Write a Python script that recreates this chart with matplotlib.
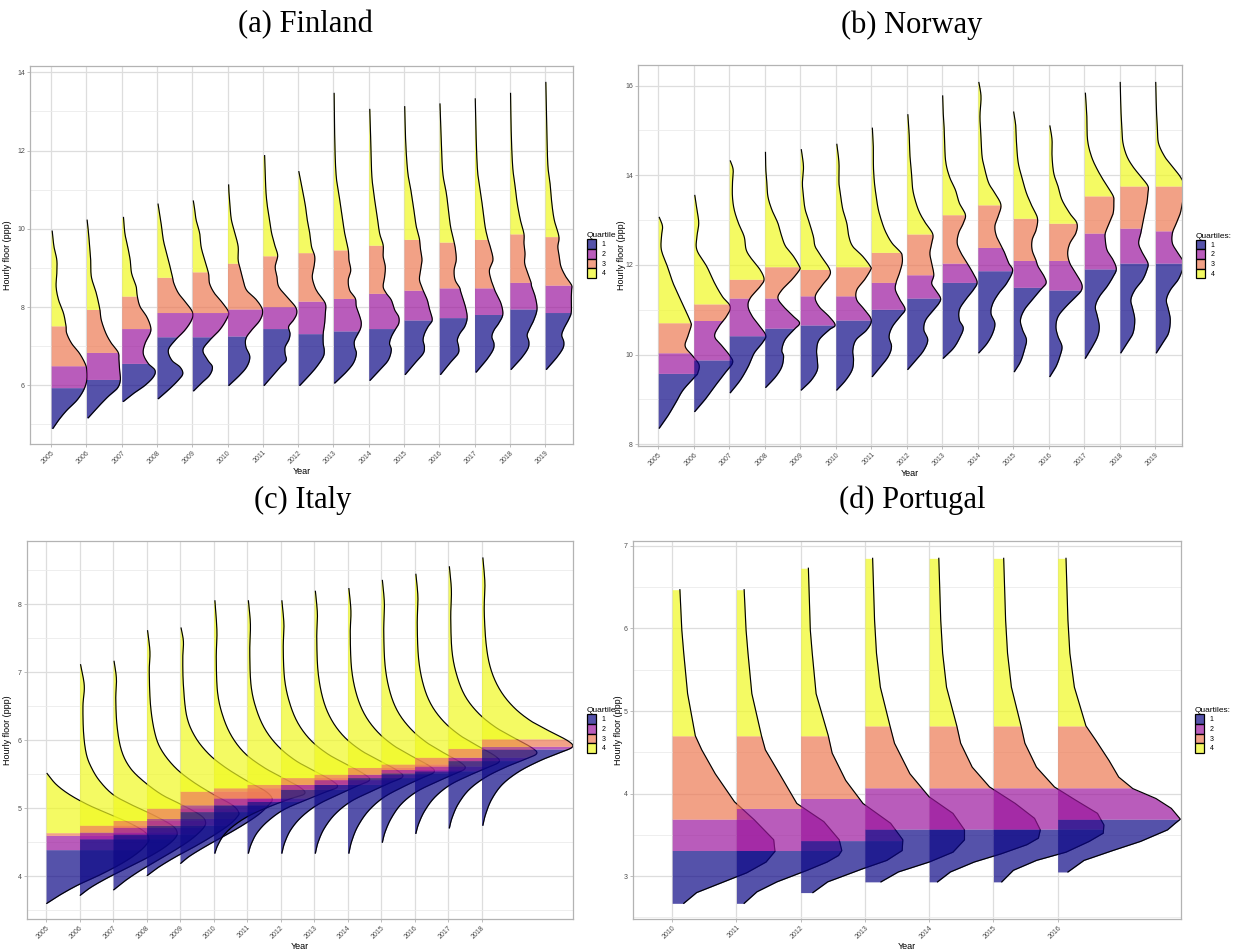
import numpy as np
import matplotlib.pyplot as plt
from matplotlib.patches import Patch
from matplotlib.colors import to_rgba

plt.rcParams["font.family"] = ["Liberation Sans", "DejaVu Sans"]

# ================================
# data
# ================================
fin_years = [str(y) for y in range(2005, 2020)]
fin_q1 = [5.94, 6.15, 6.56, 7.24, 7.24, 7.26, 7.45, 7.32, 7.39, 7.45, 7.67, 7.73, 7.81, 7.95, 7.86]
fin_q2 = [6.50, 6.84, 7.45, 7.86, 7.86, 7.95, 8.01, 8.15, 8.22, 8.35, 8.43, 8.49, 8.49, 8.63, 8.56]
fin_q3 = [7.52, 7.94, 8.28, 8.76, 8.90, 9.12, 9.31, 9.39, 9.46, 9.58, 9.73, 9.66, 9.73, 9.87, 9.80]
# density profile of each year: hourly floor values and half-violin widths
fin_y = [
    [4.90, 5.11, 5.36, 5.62, 5.88, 6.13, 6.39, 6.56, 6.82, 7.07, 7.33, 7.52, 7.84, 8.18, 8.52, 8.86, 9.20, 9.54, 9.94],
    [5.17, 5.45, 5.71, 5.92, 6.13, 6.39, 6.64, 6.84, 7.07, 7.33, 7.67, 7.94, 8.35, 8.77, 9.20, 9.54, 9.88, 10.22],
    [5.59, 5.79, 6.00, 6.22, 6.39, 6.56, 6.81, 7.07, 7.32, 7.49, 7.75, 8.01, 8.28, 8.52, 8.86, 9.20, 9.54, 9.88, 10.29],
    [5.66, 5.88, 6.13, 6.30, 6.47, 6.64, 6.90, 7.15, 7.41, 7.67, 7.86, 8.09, 8.35, 8.60, 8.76, 9.03, 9.37, 9.71, 10.05, 10.39, 10.63],
    [5.86, 6.05, 6.26, 6.47, 6.64, 6.90, 7.15, 7.41, 7.67, 7.86, 8.09, 8.35, 8.60, 8.86, 9.20, 9.54, 9.88, 10.22, 10.48, 10.71],
    [6.00, 6.22, 6.47, 6.73, 6.98, 7.20, 7.41, 7.67, 7.92, 8.18, 8.43, 8.69, 8.94, 9.20, 9.54, 9.88, 10.22, 10.56, 10.91, 11.12],
    [6.00, 6.22, 6.47, 6.64, 6.81, 6.98, 7.15, 7.32, 7.50, 7.67, 7.84, 8.01, 8.26, 8.52, 8.77, 9.03, 9.31, 9.54, 9.88, 10.22, 10.56, 10.91, 11.33, 11.87],
    [6.00, 6.22, 6.47, 6.73, 6.90, 7.07, 7.32, 7.58, 7.84, 8.09, 8.35, 8.52, 8.77, 9.03, 9.29, 9.54, 9.88, 10.22, 10.56, 10.91, 11.46],
    [6.06, 6.30, 6.56, 6.81, 6.98, 7.15, 7.41, 7.58, 7.75, 8.01, 8.22, 8.43, 8.69, 8.94, 9.20, 9.46, 9.88, 10.31, 10.73, 11.33, 12.18, 13.46],
    [6.13, 6.39, 6.64, 6.90, 7.07, 7.24, 7.41, 7.58, 7.75, 7.92, 8.18, 8.35, 8.52, 8.77, 9.03, 9.29, 9.58, 9.88, 10.31, 10.73, 11.33, 12.18, 13.05],
    [6.28, 6.56, 6.81, 6.98, 7.15, 7.32, 7.50, 7.67, 7.92, 8.18, 8.43, 8.69, 8.94, 9.20, 9.46, 9.73, 10.05, 10.48, 10.91, 11.42, 12.18, 13.12],
    [6.28, 6.56, 6.81, 6.98, 7.15, 7.32, 7.50, 7.73, 8.01, 8.35, 8.49, 8.69, 8.94, 9.20, 9.46, 9.66, 10.05, 10.48, 10.91, 11.42, 12.18, 13.19],
    [6.34, 6.64, 6.90, 7.07, 7.24, 7.41, 7.58, 7.81, 8.09, 8.35, 8.49, 8.69, 8.94, 9.20, 9.46, 9.73, 10.05, 10.48, 10.91, 11.42, 12.18, 13.32],
    [6.41, 6.69, 6.94, 7.11, 7.28, 7.45, 7.67, 7.95, 8.26, 8.52, 8.63, 8.86, 9.12, 9.37, 9.63, 9.87, 10.22, 10.65, 11.08, 11.59, 12.44, 13.46],
    [6.41, 6.69, 6.94, 7.11, 7.28, 7.45, 7.67, 7.86, 8.18, 8.43, 8.56, 8.77, 9.03, 9.29, 9.54, 9.80, 10.22, 10.65, 11.08, 11.59, 12.44, 13.74],
]
fin_w = [
    [0.05, 0.21, 0.44, 0.73, 0.92, 1.01, 1.01, 0.96, 0.80, 0.58, 0.44, 0.42, 0.35, 0.21, 0.14, 0.16, 0.16, 0.08, 0.03],
    [0.05, 0.33, 0.61, 0.87, 0.96, 0.94, 0.92, 0.90, 0.71, 0.55, 0.42, 0.38, 0.28, 0.14, 0.12, 0.09, 0.06, 0.02],
    [0.05, 0.33, 0.66, 0.90, 0.94, 0.75, 0.61, 0.66, 0.80, 0.82, 0.71, 0.52, 0.44, 0.41, 0.28, 0.24, 0.17, 0.09, 0.05],
    [0.04, 0.32, 0.60, 0.73, 0.65, 0.42, 0.32, 0.51, 0.79, 0.98, 1.01, 0.84, 0.61, 0.48, 0.44, 0.37, 0.27, 0.18, 0.13, 0.07, 0.03],
    [0.04, 0.25, 0.49, 0.57, 0.44, 0.30, 0.49, 0.77, 0.96, 1.03, 0.87, 0.63, 0.49, 0.46, 0.35, 0.25, 0.21, 0.11, 0.07, 0.03],
    [0.04, 0.30, 0.54, 0.63, 0.52, 0.52, 0.68, 0.92, 0.99, 0.82, 0.54, 0.44, 0.37, 0.30, 0.30, 0.21, 0.11, 0.07, 0.04, 0.03],
    [0.04, 0.25, 0.49, 0.66, 0.63, 0.63, 0.73, 0.77, 0.73, 0.87, 0.96, 0.92, 0.68, 0.45, 0.40, 0.35, 0.42, 0.35, 0.25, 0.19, 0.13, 0.09, 0.07, 0.05],
    [0.05, 0.28, 0.52, 0.71, 0.74, 0.71, 0.71, 0.75, 0.77, 0.77, 0.57, 0.47, 0.40, 0.45, 0.47, 0.38, 0.33, 0.26, 0.21, 0.14, 0.02],
    [0.04, 0.32, 0.56, 0.65, 0.60, 0.60, 0.75, 0.79, 0.75, 0.65, 0.62, 0.46, 0.42, 0.49, 0.44, 0.42, 0.32, 0.25, 0.18, 0.08, 0.04, 0.02],
    [0.04, 0.31, 0.55, 0.64, 0.59, 0.64, 0.74, 0.85, 0.85, 0.74, 0.64, 0.50, 0.41, 0.45, 0.47, 0.41, 0.41, 0.31, 0.24, 0.17, 0.09, 0.06, 0.03],
    [0.04, 0.30, 0.54, 0.58, 0.54, 0.58, 0.68, 0.80, 0.73, 0.66, 0.54, 0.44, 0.47, 0.51, 0.47, 0.44, 0.35, 0.28, 0.21, 0.11, 0.05, 0.02],
    [0.04, 0.29, 0.53, 0.55, 0.51, 0.58, 0.72, 0.79, 0.74, 0.62, 0.58, 0.45, 0.42, 0.48, 0.46, 0.42, 0.32, 0.26, 0.20, 0.10, 0.06, 0.02],
    [0.05, 0.33, 0.52, 0.55, 0.49, 0.55, 0.68, 0.80, 0.75, 0.61, 0.55, 0.47, 0.42, 0.52, 0.47, 0.38, 0.30, 0.24, 0.17, 0.09, 0.05, 0.02],
    [0.04, 0.32, 0.51, 0.54, 0.49, 0.56, 0.68, 0.77, 0.72, 0.62, 0.60, 0.51, 0.42, 0.43, 0.40, 0.40, 0.30, 0.21, 0.15, 0.08, 0.04, 0.02],
    [0.04, 0.31, 0.50, 0.53, 0.47, 0.53, 0.66, 0.74, 0.74, 0.75, 0.75, 0.59, 0.45, 0.40, 0.36, 0.39, 0.26, 0.19, 0.15, 0.08, 0.05, 0.02],
]

nor_years = [str(y) for y in range(2005, 2020)]
nor_q1 = [9.58, 9.88, 10.42, 10.59, 10.66, 10.77, 11.01, 11.26, 11.61, 11.87, 11.50, 11.44, 11.91, 12.04, 12.04]
nor_q2 = [10.04, 10.76, 11.26, 11.26, 11.31, 11.31, 11.61, 11.78, 12.04, 12.39, 12.10, 12.10, 12.71, 12.82, 12.76]
nor_q3 = [10.71, 11.13, 11.68, 11.96, 11.90, 11.96, 12.28, 12.69, 13.12, 13.34, 13.04, 12.93, 13.54, 13.76, 13.76]
nor_y = [
    [8.36, 8.62, 8.91, 9.21, 9.51, 9.58, 9.77, 9.96, 10.18, 10.40, 10.62, 10.71, 11.00, 11.29, 11.59, 11.96, 12.33, 12.63, 12.86, 13.06],
    [8.73, 8.99, 9.29, 9.58, 9.81, 9.96, 10.18, 10.40, 10.62, 10.85, 11.07, 11.29, 11.59, 11.96, 12.33, 12.63, 12.93, 13.23, 13.55],
    [9.15, 9.43, 9.73, 10.03, 10.25, 10.42, 10.62, 10.85, 11.07, 11.26, 11.52, 11.68, 11.89, 12.11, 12.33, 12.63, 12.93, 13.23, 13.52, 13.82, 14.12, 14.32],
    [9.27, 9.51, 9.73, 9.96, 10.10, 10.33, 10.55, 10.70, 10.85, 11.07, 11.26, 11.44, 11.67, 11.89, 11.96, 12.19, 12.41, 12.63, 12.93, 13.23, 13.52, 13.82, 14.12, 14.51],
    [9.21, 9.43, 9.66, 9.88, 10.10, 10.33, 10.55, 10.66, 10.85, 11.07, 11.29, 11.52, 11.74, 11.90, 12.19, 12.41, 12.63, 12.93, 13.23, 13.52, 13.82, 14.19, 14.57],
    [9.21, 9.43, 9.66, 9.88, 10.10, 10.33, 10.55, 10.77, 11.00, 11.22, 11.44, 11.67, 11.89, 11.96, 12.19, 12.41, 12.63, 12.93, 13.23, 13.52, 13.82, 14.27, 14.69],
    [9.51, 9.73, 9.96, 10.18, 10.40, 10.62, 10.85, 11.01, 11.22, 11.44, 11.61, 11.81, 12.04, 12.19, 12.28, 12.48, 12.71, 12.93, 13.23, 13.52, 13.82, 14.19, 14.57, 15.05],
    [9.67, 9.88, 10.10, 10.33, 10.55, 10.77, 11.00, 11.14, 11.26, 11.44, 11.59, 11.78, 12.04, 12.26, 12.48, 12.69, 12.93, 13.15, 13.38, 13.67, 13.97, 14.42, 14.86, 15.35],
    [9.92, 10.14, 10.36, 10.59, 10.77, 11.00, 11.22, 11.44, 11.61, 11.81, 12.04, 12.26, 12.48, 12.71, 12.93, 13.12, 13.38, 13.67, 13.97, 14.34, 14.94, 15.31, 15.77],
    [10.04, 10.25, 10.48, 10.70, 10.92, 11.14, 11.37, 11.59, 11.87, 12.04, 12.26, 12.39, 12.63, 12.86, 13.08, 13.34, 13.60, 13.82, 14.12, 14.42, 14.86, 15.31, 15.75, 16.07],
    [9.62, 9.84, 10.10, 10.33, 10.55, 10.77, 11.00, 11.22, 11.44, 11.59, 11.74, 11.96, 12.10, 12.33, 12.56, 12.78, 13.04, 13.30, 13.60, 13.90, 14.27, 14.71, 15.09, 15.41],
    [9.51, 9.73, 9.96, 10.18, 10.40, 10.62, 10.85, 11.07, 11.29, 11.44, 11.59, 11.81, 12.04, 12.26, 12.48, 12.71, 12.93, 13.15, 13.45, 13.75, 14.04, 14.42, 14.79, 15.10],
    [9.92, 10.14, 10.40, 10.62, 10.85, 11.07, 11.29, 11.52, 11.74, 11.91, 12.11, 12.33, 12.56, 12.71, 12.93, 13.15, 13.38, 13.54, 13.82, 14.12, 14.42, 14.79, 15.31, 15.83],
    [10.04, 10.25, 10.48, 10.77, 11.00, 11.22, 11.44, 11.67, 11.89, 12.04, 12.26, 12.48, 12.71, 12.93, 13.15, 13.38, 13.60, 13.76, 13.97, 14.19, 14.42, 14.71, 15.01, 15.46, 16.07],
    [10.04, 10.25, 10.48, 10.77, 11.00, 11.22, 11.44, 11.67, 11.89, 12.04, 12.26, 12.48, 12.71, 12.93, 13.15, 13.38, 13.60, 13.76, 13.97, 14.19, 14.42, 14.71, 15.01, 15.46, 16.07],
]
nor_w = [
    [0.03, 0.26, 0.48, 0.70, 1.04, 1.11, 1.15, 0.98, 0.76, 0.83, 0.92, 0.92, 0.76, 0.59, 0.42, 0.26, 0.09, 0.09, 0.12, 0.03],
    [0.03, 0.31, 0.59, 0.87, 1.09, 1.03, 0.81, 0.59, 0.70, 0.92, 1.03, 0.81, 0.59, 0.37, 0.09, 0.09, 0.14, 0.09, 0.03],
    [0.03, 0.31, 0.53, 0.70, 0.92, 1.03, 0.87, 0.65, 0.53, 0.59, 0.87, 0.98, 0.87, 0.65, 0.48, 0.42, 0.26, 0.14, 0.09, 0.09, 0.11, 0.03],
    [0.03, 0.31, 0.48, 0.53, 0.48, 0.57, 0.81, 0.98, 0.81, 0.53, 0.37, 0.48, 0.76, 0.98, 0.98, 0.81, 0.59, 0.48, 0.37, 0.20, 0.09, 0.06, 0.03, 0.02],
    [0.03, 0.31, 0.48, 0.48, 0.46, 0.53, 0.81, 0.98, 0.81, 0.53, 0.42, 0.59, 0.81, 0.83, 0.59, 0.42, 0.37, 0.26, 0.14, 0.09, 0.06, 0.09, 0.03],
    [0.03, 0.28, 0.46, 0.50, 0.48, 0.57, 0.87, 1.00, 0.81, 0.59, 0.59, 0.81, 0.98, 0.98, 0.76, 0.48, 0.37, 0.31, 0.20, 0.14, 0.09, 0.09, 0.03],
    [0.03, 0.26, 0.48, 0.57, 0.50, 0.59, 0.81, 0.95, 0.81, 0.68, 0.70, 0.79, 0.87, 0.87, 0.83, 0.59, 0.42, 0.31, 0.20, 0.14, 0.09, 0.06, 0.06, 0.03],
    [0.03, 0.26, 0.48, 0.59, 0.48, 0.53, 0.76, 0.90, 0.95, 0.81, 0.70, 0.76, 0.70, 0.65, 0.70, 0.73, 0.53, 0.37, 0.26, 0.17, 0.14, 0.09, 0.07, 0.03],
    [0.03, 0.31, 0.48, 0.59, 0.48, 0.48, 0.65, 0.87, 0.98, 0.87, 0.70, 0.53, 0.42, 0.46, 0.59, 0.65, 0.48, 0.37, 0.20, 0.09, 0.06, 0.03, 0.01],
    [0.03, 0.26, 0.42, 0.48, 0.37, 0.42, 0.59, 0.81, 0.98, 0.87, 0.76, 0.68, 0.53, 0.48, 0.57, 0.65, 0.48, 0.31, 0.20, 0.12, 0.09, 0.06, 0.09, 0.03],
    [0.03, 0.20, 0.31, 0.37, 0.26, 0.20, 0.31, 0.53, 0.76, 0.92, 0.87, 0.70, 0.64, 0.53, 0.53, 0.64, 0.68, 0.53, 0.37, 0.26, 0.14, 0.09, 0.07, 0.01],
    [0.03, 0.20, 0.31, 0.37, 0.26, 0.20, 0.26, 0.48, 0.76, 0.92, 0.92, 0.76, 0.59, 0.53, 0.59, 0.76, 0.79, 0.59, 0.37, 0.26, 0.14, 0.09, 0.09, 0.03],
    [0.03, 0.20, 0.37, 0.42, 0.37, 0.31, 0.42, 0.64, 0.81, 0.90, 0.81, 0.64, 0.59, 0.59, 0.70, 0.81, 0.83, 0.81, 0.59, 0.37, 0.20, 0.09, 0.07, 0.03],
    [0.03, 0.20, 0.37, 0.42, 0.37, 0.31, 0.42, 0.64, 0.76, 0.79, 0.64, 0.53, 0.59, 0.64, 0.70, 0.76, 0.79, 0.79, 0.59, 0.37, 0.20, 0.09, 0.06, 0.03, 0.01],
    [0.03, 0.20, 0.37, 0.42, 0.37, 0.31, 0.42, 0.64, 0.76, 0.81, 0.64, 0.48, 0.48, 0.59, 0.70, 0.76, 0.81, 0.83, 0.70, 0.48, 0.26, 0.09, 0.06, 0.03, 0.01],
]

ita_years = [str(y) for y in range(2005, 2019)]
ita_q1 = [4.39, 4.55, 4.62, 4.75, 4.95, 5.05, 5.10, 5.28, 5.35, 5.45, 5.52, 5.55, 5.70, 5.87]
ita_q2 = [4.60, 4.65, 4.72, 4.85, 5.05, 5.15, 5.15, 5.35, 5.42, 5.50, 5.57, 5.62, 5.75, 5.91]
ita_q3 = [4.64, 4.75, 4.82, 5.00, 5.25, 5.30, 5.35, 5.45, 5.50, 5.60, 5.65, 5.75, 5.88, 6.02]
ita_y = [
    [3.60, 3.72, 3.87, 4.03, 4.20, 4.35, 4.47, 4.55, 4.65, 4.78, 4.92, 5.05, 5.20, 5.35, 5.51],
    [3.72, 3.84, 3.98, 4.13, 4.28, 4.43, 4.56, 4.65, 4.75, 4.90, 5.05, 5.20, 5.40, 5.60, 5.80, 6.10, 6.50, 6.80, 7.11],
    [3.80, 3.93, 4.08, 4.24, 4.40, 4.55, 4.70, 4.80, 4.90, 5.05, 5.20, 5.40, 5.60, 5.85, 6.20, 6.60, 6.90, 7.16],
    [4.01, 4.13, 4.28, 4.44, 4.60, 4.75, 4.87, 4.94, 5.05, 5.20, 5.40, 5.60, 5.85, 6.10, 6.50, 7.00, 7.30, 7.61],
    [4.19, 4.30, 4.45, 4.60, 4.76, 4.91, 5.05, 5.14, 5.25, 5.40, 5.60, 5.80, 6.05, 6.35, 6.80, 7.20, 7.45, 7.65],
    [4.34, 4.45, 4.60, 4.75, 4.90, 5.04, 5.14, 5.21, 5.30, 5.45, 5.60, 5.80, 6.05, 6.35, 6.70, 7.20, 7.60, 8.05],
    [4.34, 4.47, 4.64, 4.81, 4.98, 5.12, 5.23, 5.31, 5.40, 5.55, 5.70, 5.90, 6.15, 6.45, 6.80, 7.30, 7.70, 8.05],
    [4.34, 4.49, 4.68, 4.87, 5.05, 5.20, 5.32, 5.41, 5.50, 5.65, 5.80, 6.00, 6.25, 6.55, 6.90, 7.35, 7.70, 8.05],
    [4.34, 4.50, 4.70, 4.91, 5.10, 5.25, 5.37, 5.46, 5.55, 5.70, 5.85, 6.05, 6.30, 6.60, 7.00, 7.50, 7.85, 8.19],
    [4.34, 4.51, 4.73, 4.96, 5.16, 5.32, 5.44, 5.53, 5.62, 5.77, 5.92, 6.12, 6.37, 6.67, 7.05, 7.55, 7.90, 8.23],
    [4.50, 4.65, 4.85, 5.06, 5.24, 5.38, 5.49, 5.58, 5.67, 5.82, 5.97, 6.17, 6.42, 6.72, 7.10, 7.60, 8.00, 8.35],
    [4.63, 4.77, 4.96, 5.16, 5.34, 5.48, 5.59, 5.68, 5.77, 5.92, 6.07, 6.27, 6.52, 6.82, 7.20, 7.70, 8.10, 8.44],
    [4.71, 4.86, 5.06, 5.27, 5.45, 5.60, 5.71, 5.80, 5.89, 6.04, 6.19, 6.39, 6.64, 6.94, 7.30, 7.80, 8.20, 8.55],
    [4.75, 4.91, 5.13, 5.35, 5.54, 5.70, 5.81, 5.90, 5.99, 6.14, 6.29, 6.49, 6.74, 7.04, 7.40, 7.90, 8.30, 8.68],
]
ita_w = [
    [0.02, 0.40, 0.95, 1.65, 2.30, 2.75, 3.00, 3.07, 2.95, 2.50, 1.85, 1.25, 0.70, 0.30, 0.03],
    [0.02, 0.35, 0.85, 1.45, 2.05, 2.55, 2.85, 2.91, 2.75, 2.20, 1.55, 1.00, 0.60, 0.35, 0.20, 0.12, 0.10, 0.14, 0.03],
    [0.02, 0.35, 0.80, 1.35, 1.90, 2.35, 2.68, 2.76, 2.60, 2.05, 1.45, 0.90, 0.50, 0.25, 0.12, 0.08, 0.10, 0.03],
    [0.02, 0.35, 0.85, 1.45, 2.00, 2.45, 2.70, 2.75, 2.55, 2.00, 1.35, 0.85, 0.45, 0.25, 0.12, 0.08, 0.10, 0.03],
    [0.02, 0.30, 0.80, 1.35, 1.90, 2.35, 2.65, 2.75, 2.55, 2.00, 1.35, 0.85, 0.45, 0.20, 0.10, 0.08, 0.10, 0.03],
    [0.04, 0.12, 0.30, 0.62, 1.10, 1.75, 2.30, 2.71, 2.60, 2.05, 1.50, 0.95, 0.55, 0.28, 0.12, 0.08, 0.10, 0.04],
    [0.04, 0.12, 0.30, 0.62, 1.10, 1.75, 2.30, 2.69, 2.55, 2.00, 1.45, 0.95, 0.55, 0.28, 0.12, 0.08, 0.10, 0.04],
    [0.04, 0.12, 0.30, 0.62, 1.10, 1.72, 2.25, 2.65, 2.50, 1.95, 1.40, 0.90, 0.52, 0.27, 0.12, 0.08, 0.10, 0.04],
    [0.04, 0.12, 0.30, 0.62, 1.10, 1.72, 2.25, 2.64, 2.50, 1.95, 1.40, 0.90, 0.52, 0.27, 0.12, 0.08, 0.10, 0.04],
    [0.04, 0.12, 0.30, 0.62, 1.08, 1.68, 2.20, 2.58, 2.45, 1.90, 1.38, 0.90, 0.52, 0.27, 0.12, 0.08, 0.10, 0.04],
    [0.04, 0.12, 0.30, 0.60, 1.05, 1.62, 2.12, 2.50, 2.38, 1.85, 1.35, 0.88, 0.50, 0.26, 0.12, 0.08, 0.10, 0.04],
    [0.04, 0.12, 0.30, 0.60, 1.05, 1.62, 2.14, 2.52, 2.40, 1.87, 1.36, 0.88, 0.50, 0.26, 0.12, 0.08, 0.10, 0.04],
    [0.04, 0.12, 0.30, 0.62, 1.10, 1.70, 2.25, 2.64, 2.50, 1.95, 1.42, 0.92, 0.52, 0.27, 0.12, 0.08, 0.10, 0.04],
    [0.04, 0.12, 0.30, 0.62, 1.12, 1.75, 2.30, 2.71, 2.58, 2.00, 1.45, 0.95, 0.55, 0.28, 0.14, 0.08, 0.10, 0.04],
]

por_years = [str(y) for y in range(2010, 2017)]
por_q1 = [3.31, 3.31, 3.43, 3.57, 3.57, 3.57, 3.69]
por_q2 = [3.69, 3.82, 3.94, 4.07, 4.07, 4.07, 4.07]
por_q3 = [4.70, 4.70, 4.70, 4.82, 4.82, 4.82, 4.82]
por_y = [
    [2.67, 2.80, 3.04, 3.17, 3.30, 3.44, 3.68, 3.90, 4.24, 4.53, 4.70, 5.21, 5.70, 5.98, 6.47],
    [2.67, 2.81, 2.93, 3.07, 3.17, 3.25, 3.31, 3.44, 3.66, 3.88, 4.24, 4.53, 4.70, 5.21, 5.70, 5.98, 6.47],
    [2.80, 2.93, 3.09, 3.19, 3.31, 3.44, 3.64, 3.88, 4.16, 4.49, 4.70, 5.21, 5.70, 5.98, 6.73],
    [2.93, 3.05, 3.17, 3.29, 3.44, 3.56, 3.76, 3.96, 4.24, 4.61, 4.82, 5.29, 5.70, 6.10, 6.85],
    [2.93, 3.05, 3.17, 3.27, 3.38, 3.46, 3.56, 3.70, 3.88, 4.08, 4.32, 4.61, 4.82, 5.29, 5.70, 6.10, 6.85],
    [2.93, 3.07, 3.19, 3.29, 3.42, 3.52, 3.62, 3.76, 3.92, 4.08, 4.32, 4.61, 4.82, 5.29, 5.70, 6.10, 6.85],
    [3.05, 3.19, 3.31, 3.42, 3.56, 3.64, 3.69, 3.82, 3.94, 4.06, 4.20, 4.40, 4.65, 4.82, 5.29, 5.70, 6.10, 6.85],
]
por_w = [
    [0.18, 0.38, 1.16, 1.46, 1.60, 1.58, 1.28, 0.97, 0.67, 0.46, 0.36, 0.24, 0.18, 0.15, 0.12],
    [0.12, 0.32, 0.63, 1.10, 1.41, 1.59, 1.64, 1.60, 1.36, 0.94, 0.67, 0.45, 0.39, 0.24, 0.18, 0.15, 0.12],
    [0.19, 0.42, 0.97, 1.34, 1.58, 1.59, 1.40, 0.97, 0.70, 0.49, 0.43, 0.24, 0.18, 0.15, 0.12],
    [0.25, 0.52, 1.00, 1.37, 1.55, 1.55, 1.37, 1.00, 0.70, 0.46, 0.39, 0.24, 0.18, 0.15, 0.12],
    [0.13, 0.33, 0.70, 1.12, 1.52, 1.70, 1.73, 1.64, 1.34, 0.94, 0.67, 0.49, 0.43, 0.27, 0.21, 0.18, 0.15],
    [0.13, 0.31, 0.67, 1.13, 1.49, 1.71, 1.72, 1.62, 1.28, 0.95, 0.67, 0.49, 0.43, 0.28, 0.22, 0.19, 0.16],
    [0.16, 0.41, 0.86, 1.29, 1.71, 1.83, 1.91, 1.77, 1.53, 1.17, 0.95, 0.80, 0.59, 0.44, 0.26, 0.19, 0.16, 0.13],
]

quartile_colors = ["#0D0887", "#9C179E", "#ED7953", "#F0F921"]
quartile_labels = ["1", "2", "3", "4"]

W, H = 1234, 949


def catmull(ys, ws, n=14):
    # smooth curve through the read points (drawing only)
    P = np.column_stack([ys, ws]).astype(float)
    P = np.vstack([2 * P[0] - P[1], P, 2 * P[-1] - P[-2]])
    t = np.linspace(0, 1, n, endpoint=False)[:, None]
    out = []
    for i in range(1, len(P) - 2):
        p0, p1, p2, p3 = P[i - 1], P[i], P[i + 1], P[i + 2]
        seg = 0.5 * (2 * p1 + (-p0 + p2) * t + (2 * p0 - 5 * p1 + 4 * p2 - p3) * t ** 2
                     + (-p0 + 3 * p1 - 3 * p2 + p3) * t ** 3)
        out.append(seg)
    out.append(P[-2][None])
    c = np.vstack(out)
    c[:, 0] = np.maximum.accumulate(c[:, 0])
    c[:, 1] = np.clip(c[:, 1], 0, None)
    return c[:, 0], c[:, 1]


def draw_panel(ax, years, ys, ws, q1, q2, q3, smooth=True):
    for i in range(len(years)):
        if smooth:
            yy, ww = catmull(ys[i], ws[i])
        else:
            yy, ww = np.array(ys[i], float), np.array(ws[i], float)
        cuts = [yy[0], q1[i], q2[i], q3[i], yy[-1]]
        z = 2 + i * 0.01
        for k in range(4):
            lo, hi = cuts[k], cuts[k + 1]
            m = (yy > lo) & (yy < hi)
            yb = np.concatenate([[lo], yy[m], [hi]])
            wb = np.concatenate([[np.interp(lo, yy, ww)], ww[m], [np.interp(hi, yy, ww)]])
            ax.fill_betweenx(yb, i, i + wb, color=quartile_colors[k], alpha=0.7,
                             lw=0, zorder=z)
        ax.plot(i + ww, yy, color="black", lw=0.85, zorder=z + 0.005)


def style_panel(ax, years, xlim, ylim, major, minor, legend_title, ylabel_x):
    ax.set_xlim(*xlim)
    ax.set_ylim(*ylim)
    ax.set_xticks(range(len(years)))
    ax.set_xticklabels(years, rotation=45, ha="right", rotation_mode="anchor")
    ax.set_yticks(major)
    ax.set_yticklabels([f"{v:g}" for v in major])
    ax.set_yticks(minor, minor=True)
    ax.set_axisbelow(True)
    ax.grid(True, which="major", color="#DDDDDD", lw=0.9)
    ax.grid(True, which="minor", axis="y", color="#EBEBEB", lw=0.6)
    for s in ax.spines.values():
        s.set_color("#B3B3B3")
        s.set_linewidth(0.9)
    ax.tick_params(which="major", length=2.2, width=0.6, color="#B3B3B3",
                   labelsize=5, labelcolor="#4D4D4D", pad=1.5)
    ax.tick_params(which="minor", length=0)
    ax.set_xlabel("Year", fontsize=6.5, labelpad=1)
    ax.set_ylabel("Hourly floor (ppp)", fontsize=6.5)
    ax.yaxis.set_label_coords(ylabel_x, 0.5)
    handles = [Patch(facecolor=to_rgba(c, 0.7), edgecolor="black", lw=0.9)
               for c in quartile_colors]
    width_px = ax.get_position().width * W
    ax.legend(handles, quartile_labels, title=legend_title, loc="center left",
              bbox_to_anchor=(1 + 14 / width_px, 0.5), frameon=False, fontsize=5,
              title_fontsize=6, handlelength=1.3, handleheight=1.75,
              labelspacing=0.0, handletextpad=0.8, borderaxespad=0, borderpad=0,
              alignment="left")


fig = plt.figure(figsize=(W / 100, H / 100), dpi=100)


def axes_px(left, top, right, bottom):
    return fig.add_axes([left / W, 1 - bottom / H, (right - left) / W, (bottom - top) / H])


ax_a = axes_px(30, 66, 573, 444)
draw_panel(ax_a, fin_years, fin_y, fin_w, fin_q1, fin_q2, fin_q3)
style_panel(ax_a, fin_years, (-0.6, 14.79), (4.50, 14.16),
            [6, 8, 10, 12, 14], [5, 7, 9, 11, 13], "Quartile", -18 / 543)

ax_b = axes_px(638, 65, 1182, 446)
draw_panel(ax_b, nor_years, nor_y, nor_w, nor_q1, nor_q2, nor_q3)
style_panel(ax_b, nor_years, (-0.57, 14.75), (7.96, 16.46),
            [8, 10, 12, 14, 16], [9, 11, 13, 15], "Quartiles:", -12 / 544)

ax_c = axes_px(27, 541, 573, 919)
draw_panel(ax_c, ita_years, ita_y, ita_w, ita_q1, ita_q2, ita_q3)
style_panel(ax_c, ita_years, (-0.57, 15.73), (3.37, 8.93),
            [4, 5, 6, 7, 8], [3.5, 4.5, 5.5, 6.5, 7.5, 8.5], "Quartile", -15 / 546)

ax_d = axes_px(633, 541, 1181, 919)
draw_panel(ax_d, por_years, por_y, por_w, por_q1, por_q2, por_q3, smooth=False)
style_panel(ax_d, por_years, (-0.61, 7.92), (2.48, 7.06),
            [3, 4, 5, 6, 7], [2.5, 3.5, 4.5, 5.5, 6.5], "Quartiles:", -10 / 548)

titles = [("(a) Finland", 305, 25), ("(b) Norway", 912, 25),
          ("(c) Italy", 303, 500), ("(d) Portugal", 912, 500)]
for txt, cx, cy in titles:
    fig.text(cx / W, 1 - cy / H, txt, ha="center", va="center", fontsize=22,
             family=["Liberation Serif", "DejaVu Serif"])

fig.savefig("out.png", dpi=100)
